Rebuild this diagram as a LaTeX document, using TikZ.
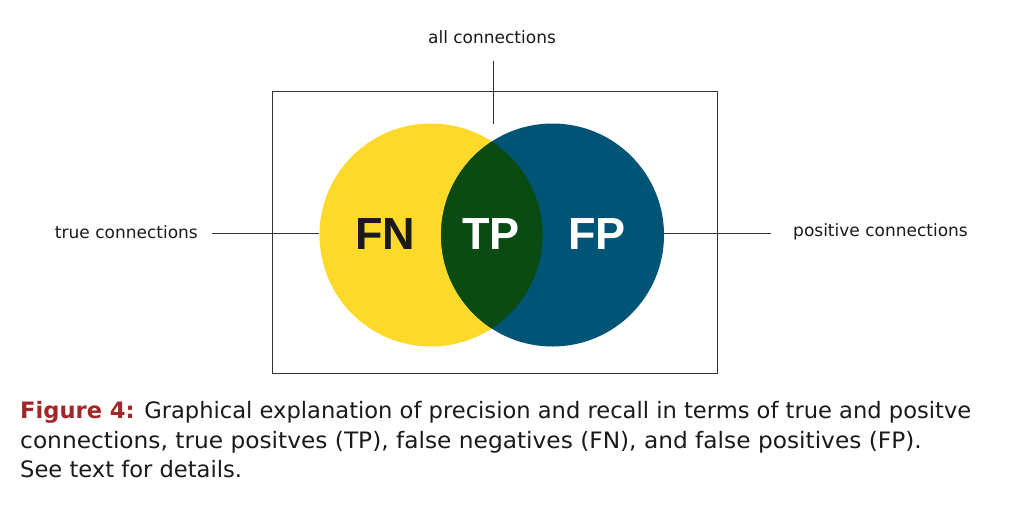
\documentclass[tikz,border=0pt]{standalone}
\usepackage{fontspec}
\setmainfont{DejaVu Sans}
\newfontfamily\bigfont{Liberation Sans}
\definecolor{vyellow}{HTML}{FDD92A}
\definecolor{vblue}{HTML}{005476}
\definecolor{vgreen}{HTML}{0A4B14}
\definecolor{vdark}{HTML}{1A1A1A}
\definecolor{vred}{HTML}{A3262A}
\definecolor{vline}{HTML}{333333}
\tikzset{
  setcircle/.style={circle, inner sep=0pt, minimum size=223pt},
  lbl/.style={font=\fontsize{17}{20}\selectfont, text=vdark, inner sep=0pt},
  big/.style={font=\bigfont\fontsize{45}{50}\selectfont\bfseries, inner sep=0pt},
  conn/.style={draw=vline, line width=0.9pt},
  captext/.style={font=\fontsize{22.6}{30}\selectfont, text=vdark, inner sep=0pt, anchor=base west}
}
\begin{document}
\begin{tikzpicture}[x=1pt,y=-1pt]
\useasboundingbox[fill=white] (0,0) rectangle (1024,512);
% frame
\node[draw=vline, line width=0.9pt, minimum width=445pt, minimum height=282pt, inner sep=0pt] (frame) at (494.5,232) {};
% circles
\node[setcircle, fill=vyellow] (truec) at (431,235) {};
\node[setcircle, fill=vblue] (posc) at (552.5,235) {};
\begin{scope}
  \clip (431,235) circle[radius=111.5pt];
  \fill[vgreen] (552.5,235) circle[radius=111.5pt];
\end{scope}
% big labels
\node[big, text=vdark] (fn) at (385,234) {FN};
\node[big, text=white] (tp) at (491,234) {TP};
\node[big, text=white] (fp) at (597,234) {FP};
% outside labels
\node[lbl] (allc) at (492,37) {all connections};
\node[lbl, anchor=east] (truel) at (198,232) {true connections};
\node[lbl, anchor=west] (posl) at (793,232) {positive connections};
\coordinate (topc) at (493,61);
\coordinate (topend) at (493,124);
\coordinate (lstart) at (212,233);
\coordinate (rend) at (771,233);
\draw[conn] (topc) -- (topend);
\draw[conn] (lstart) -- (truec.west |- lstart);
\draw[conn] (posc.east |- rend) -- (rend);
% caption
\node[captext] (cap1) at (20,418) {\textcolor{vred}{\bfseries Figure 4:} Graphical explanation of precision and recall in terms of true and positve};
\node[captext] (cap2) at (20,448) {\scalebox{1.03}[1]{connections, true positves (TP), false negatives (FN), and false positives (FP).}};
\node[captext] (cap3) at (20,477) {See text for details.};
\end{tikzpicture}
\end{document}
